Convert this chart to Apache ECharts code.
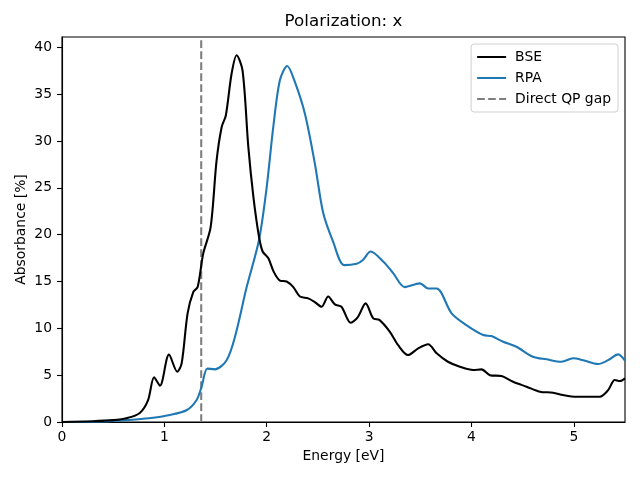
<!DOCTYPE html>
<html>
<head>
<meta charset="utf-8">
<script src="https://cdn.jsdelivr.net/npm/echarts@6/dist/echarts.min.js"></script>
<style>html,body{margin:0;padding:0;background:#fff}#c{width:640px;height:480px}</style>
</head>
<body>
<div id="c"></div>
<script>
const titleText = 'Polarization: x';
const xName = 'Energy [eV]';
const yName = 'Absorbance [%]';
const xTicks = [0, 1, 2, 3, 4, 5];
const yTicks = [0, 5, 10, 15, 20, 25, 30, 35, 40];
const xMin = 0, xMax = 5.5, yMin = 0, yMax = 41.1;
const qpGap = 1.36;

const bseEnergy = [0, 0.3, 0.5, 0.63, 0.76, 0.84, 0.90, 0.957, 1.045, 1.126, 1.169, 1.227, 1.283, 1.325, 1.38, 1.452, 1.51, 1.56, 1.6, 1.657, 1.706, 1.764, 1.82, 1.87, 1.924, 1.96, 2.015, 2.07, 2.129, 2.194, 2.26, 2.324, 2.405, 2.47, 2.536, 2.6, 2.666, 2.73, 2.82, 2.89, 2.966, 3.04, 3.1, 3.203, 3.284, 3.38, 3.48, 3.577, 3.66, 3.77, 3.887, 4.017, 4.098, 4.18, 4.294, 4.407, 4.538, 4.668, 4.798, 4.895, 5.026, 5.156, 5.254, 5.335, 5.4, 5.45, 5.5];
const bseAbs =    [0, 0.08, 0.2, 0.4, 0.96, 2.3, 4.77, 3.88, 7.2, 5.37, 6.26, 11.6, 13.9, 14.4, 18.0, 20.8, 27.9, 31.5, 32.7, 37.2, 39.15, 37.5, 29.4, 24.0, 19.8, 18.2, 17.5, 16.0, 15.1, 15.0, 14.4, 13.4, 13.2, 12.8, 12.3, 13.4, 12.55, 12.3, 10.6, 11.2, 12.66, 11.06, 10.9, 9.63, 8.2, 7.15, 7.86, 8.3, 7.33, 6.43, 5.9, 5.55, 5.62, 5.0, 4.9, 4.3, 3.77, 3.24, 3.13, 2.88, 2.7, 2.7, 2.7, 3.4, 4.48, 4.37, 4.66];

const rpaEnergy = [0, 0.4, 0.63, 0.85, 1.055, 1.22, 1.315, 1.364, 1.42, 1.494, 1.608, 1.69, 1.804, 1.924, 2.0, 2.064, 2.129, 2.2, 2.275, 2.373, 2.47, 2.552, 2.65, 2.757, 2.878, 2.94, 3.015, 3.14, 3.235, 3.35, 3.496, 3.577, 3.66, 3.806, 3.95, 4.115, 4.196, 4.31, 4.44, 4.6, 4.733, 4.88, 4.993, 5.09, 5.237, 5.335, 5.433, 5.5];
const rpaAbs =    [0, 0.05, 0.2, 0.4, 0.75, 1.28, 2.35, 3.77, 5.7, 5.62, 6.6, 9.1, 14.4, 19.4, 25.1, 31.5, 36.5, 38.0, 36.3, 32.9, 27.6, 22.3, 19.2, 16.75, 16.9, 17.3, 18.2, 17.1, 15.9, 14.4, 14.8, 14.26, 14.26, 11.6, 10.35, 9.28, 9.17, 8.57, 8.03, 6.97, 6.69, 6.43, 6.8, 6.6, 6.19, 6.6, 7.22, 6.54];

const pairs = (xs, ys) => xs.map((x, i) => [x, ys[i]]);
const font = 'DejaVu Sans';
const lw = 2.08;

const chart = echarts.init(document.getElementById('c'), null, {renderer: 'canvas'});
chart.setOption({
  animation: false,
  backgroundColor: '#fff',
  textStyle: {fontFamily: font},
  grid: {left: 62, right: 15, top: 37, bottom: 58, show: true, borderColor: '#000', borderWidth: 1.1, backgroundColor: 'transparent'},
  graphic: [{
    type: 'text', x: 343.5, y: 22,
    style: {text: titleText, font: '16.7px "DejaVu Sans"', fill: '#000', align: 'center', verticalAlign: 'middle'}
  }],
  legend: {
    right: 22, top: 44, orient: 'vertical', itemWidth: 29, itemHeight: 14, itemGap: 7,
    padding: [6, 7, 6, 5],
    borderColor: '#d0d0d0', borderWidth: 1, borderRadius: 3, backgroundColor: 'rgba(255,255,255,0.8)',
    itemStyle: {opacity: 0},
    textStyle: {fontFamily: font, fontSize: 13.9, color: '#000', padding: [0, 0, 0, 4]},
    data: ['BSE', 'RPA', 'Direct QP gap']
  },
  xAxis: {
    type: 'value', min: xMin, max: xMax,
    name: xName, nameLocation: 'middle', nameGap: 27, nameMoveOverlap: false,
    nameTextStyle: {fontFamily: font, fontSize: 13.9, color: '#000'},
    axisLine: {show: true, onZero: false, lineStyle: {color: '#000', width: 1.1}},
    axisTick: {show: true, inside: false, length: 5, lineStyle: {color: '#000', width: 1.1}, customValues: xTicks},
    axisLabel: {fontFamily: font, fontSize: 13.9, color: '#000', margin: 8, customValues: xTicks},
    splitLine: {show: false}
  },
  yAxis: {
    type: 'value', min: yMin, max: yMax,
    name: yName, nameLocation: 'middle', nameGap: 34, nameMoveOverlap: false,
    nameTextStyle: {fontFamily: font, fontSize: 13.9, color: '#000'},
    axisLine: {show: true, onZero: false, lineStyle: {color: '#000', width: 1.1}},
    axisTick: {show: true, inside: false, length: 5, lineStyle: {color: '#000', width: 1.1}, customValues: yTicks},
    axisLabel: {fontFamily: font, fontSize: 13.9, color: '#000', margin: 10, customValues: yTicks},
    splitLine: {show: false}
  },
  series: [
    {name: 'BSE', type: 'line', data: pairs(bseEnergy, bseAbs), smooth: 0.3, showSymbol: false, symbol: 'none',
     lineStyle: {color: '#000', width: lw}, itemStyle: {color: '#000'}, z: 3},
    {name: 'RPA', type: 'line', data: pairs(rpaEnergy, rpaAbs), smooth: 0.3, showSymbol: false, symbol: 'none',
     lineStyle: {color: '#1f77b4', width: lw}, itemStyle: {color: '#1f77b4'}, z: 2},
    {name: 'Direct QP gap', type: 'line', data: [[qpGap, yMin], [qpGap, yMax]], showSymbol: false, symbol: 'none',
     lineStyle: {color: '#7f7f7f', width: lw, type: [7.7, 3.3]}, itemStyle: {color: '#7f7f7f'}, z: 1}
  ]
});
</script>
</body>
</html>
